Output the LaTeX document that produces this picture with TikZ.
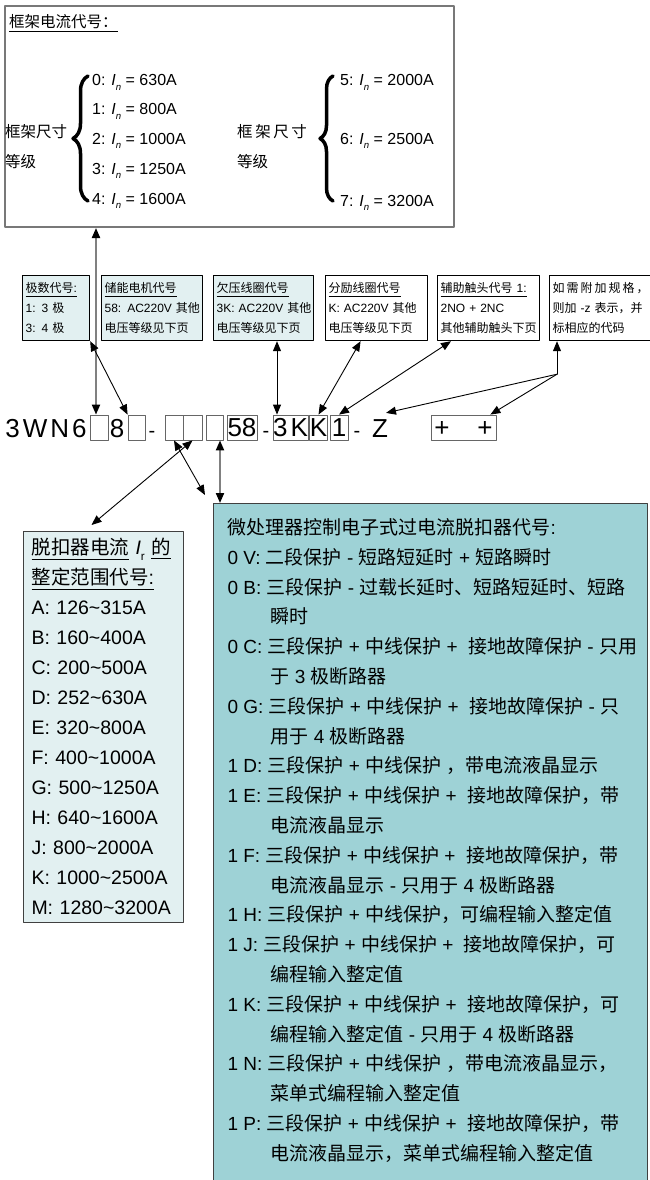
\documentclass[tikz,border=0pt]{standalone}
\usepackage{fontspec}
\usepackage{graphicx}
\setmainfont{Liberation Sans}
\newfontfamily\cjkfont{Noto Sans CJK SC}
\usetikzlibrary{arrows.meta,decorations.pathreplacing}
\definecolor{palefill}{RGB}{226,240,241}
\definecolor{tealfill}{RGB}{158,210,214}
\definecolor{framegray}{RGB}{120,120,120}
\XeTeXinterchartokenstate=1
\newXeTeXintercharclass\cjkclass
\makeatletter
\count@="3000
\loop\ifnum\count@<"A000 \XeTeXcharclass\count@=\cjkclass \advance\count@\@ne\repeat
\count@="FF00
\loop\ifnum\count@<"FFF0 \XeTeXcharclass\count@=\cjkclass \advance\count@\@ne\repeat
\makeatother
\XeTeXinterchartoks 0 \cjkclass = {\begingroup\cjkfont}
\XeTeXinterchartoks 4095 \cjkclass = {\begingroup\cjkfont}
\XeTeXinterchartoks \cjkclass 0 = {\endgroup}
\XeTeXinterchartoks \cjkclass 4095 = {\endgroup}
\newcommand{\ulbox}[1]{\leavevmode\vtop{\hbox{#1}\kern2pt\hrule height 1.1pt}}
\newcommand{\Isub}[1]{\textit{I}\raisebox{-.3em}{\scalebox{.6}{\textit{#1}}}}
\begin{document}
\begin{tikzpicture}[x=1pt,y=-1pt,line cap=round,line join=round,
  codebox/.style={draw=black!60,line width=0.8pt,inner sep=0pt,minimum height=25pt,text height=18.7pt,text depth=0pt,font=\fontsize{26}{26}\selectfont},
  codetext/.style={anchor=base,inner sep=0pt,font=\fontsize{26}{26}\selectfont},
  dashtext/.style={anchor=base,inner sep=0pt,font=\fontsize{20}{20}\selectfont},
  notebox/.style={draw=black,line width=1.2pt,anchor=north west,align=left,text width=#1,minimum height=65pt,inner xsep=3pt,inner ysep=2pt,font=\fontsize{12}{20}\selectfont},
  dbl/.style={{Triangle[length=10pt,width=8pt]}-{Triangle[length=10pt,width=8pt]},line width=0.9pt},
  onearrow/.style={-{Triangle[length=10pt,width=8pt]},line width=0.9pt},
  graydbl/.style={{Triangle[length=10pt,width=8pt,color=black]}-{Triangle[length=10pt,width=8pt,color=black]},draw=black!50,line width=2pt},
  bigbrace/.style={decorate,decoration={brace,amplitude=#1},line width=3.5pt},
  rating/.style={anchor=base west,inner sep=0pt,font=\fontsize{16}{16}\selectfont},
  sizelabel/.style={anchor=west,inner sep=0pt,font=\fontsize{15.5}{16}\selectfont}]
  \useasboundingbox (0,0) rectangle (650,1180);
  \node[draw=framegray,line width=2pt,anchor=north west,minimum width=449pt,minimum height=221pt,inner sep=0pt] (frame) at (4,5) {};
  \node[anchor=north west,inner sep=0pt,font=\fontsize{15.5}{16}\selectfont] (ftitle) at (9,14) {\ulbox{框架电流代号：}};
  \node[sizelabel] (lsize) at (5,132) {框架尺寸};
  \node[sizelabel] (lgrade) at (5,162) {等级};
  \draw[bigbrace=15pt] (88,201) -- (88,76);
  \foreach \k/\amps/\yy in {0/630/80,1/800/109,2/1000/138,3/1250/168,4/1600/198}
    \node[rating] (lo\k) at (92,\yy+6) {\k: \Isub{n} = \amps A};
  \node[sizelabel] (rsize) at (237,132) {框\,架\,尺\,寸};
  \node[sizelabel] (rgrade) at (237,162) {等级};
  \draw[bigbrace=13pt] (333,201) -- (333,76);
  \foreach \k/\amps/\yy in {5/2000/80,6/2500/138,7/3200/200}
    \node[rating] (hi\k) at (340,\yy+6) {\k: \Isub{n} = \amps A};

  \node[notebox=61pt,fill=palefill] (poles) at (22,275) {\ulbox{极数代号:}\\1: 3 极\\3: 4 极};
  \node[notebox=95pt,fill=palefill] (motor) at (101,275) {\ulbox{储能电机代号}\\\mbox{58: AC220V 其他}\\电压等级见下页};
  \node[notebox=94pt,fill=palefill] (uv) at (213,275) {\ulbox{欠压线圈代号}\\\mbox{3K: AC220V 其他}\\电压等级见下页};
  \node[notebox=96pt,fill=white] (shunt) at (325,275) {\ulbox{分励线圈代号}\\\mbox{K: AC220V 其他}\\电压等级见下页};
  \node[notebox=96pt,fill=white] (aux) at (437,275) {\ulbox{辅助触头代号 1:}\\\mbox{2NO + 2NC}\\其他辅助触头下页};
  \node[notebox=110pt,fill=white] (extra) at (549,275) {如\,需\,附\,加\,规\,格\,，\\\mbox{则加 -z 表示，并}\\标相应的代码};

  \node[codetext] (series) at (46,437) {3\hspace{3pt}W\hspace{3pt}N\hspace{3pt}6};
  \node[codebox,minimum width=18pt] (ba) at (99,427.5) {};
  \node[codetext] (eight) at (117,437) {8};
  \node[codebox,minimum width=17pt] (bb) at (136.5,427.5) {};
  \node[dashtext] (d1) at (152,437) {-};
  \node[codebox,minimum width=18pt] (bc) at (174,427.5) {};
  \node[codebox,minimum width=19pt] (bd) at (192.5,427.5) {};
  \node[codebox,minimum width=17pt] (be) at (214.5,427.5) {};
  \node[codebox,minimum width=30pt] (b58) at (242,427.5) {58};
  \node[dashtext] (d2) at (266,437) {-};
  \node[codebox,minimum width=35pt] (b3k) at (290.5,427.5) {3\hspace{3pt}K};
  \node[codebox,minimum width=14pt] (bk) at (318.5,427.5) {K};
  \node[codebox,minimum width=18pt] (bone) at (339,427.5) {1};
  \node[dashtext] (d3) at (357,437) {-};
  \node[codetext] (zed) at (380,437) {Z};
  \node[codebox,minimum width=65pt] (plus) at (463.5,427.5) {+\hspace{28pt}+};

  \node[draw=black!75,line width=1pt,fill=palefill,anchor=north west,text width=144pt,inner xsep=8pt,inner ysep=7pt,align=left,font=\fontsize{19.5}{30}\selectfont] (range) at (23,531)
    {\ulbox{脱扣器电流} \textit{I}\raisebox{-.3em}{\scalebox{.6}{r}} \ulbox{的}\\
     \ulbox{整定范围代号:}\\
     A: 126\textasciitilde315A\\
     B: 160\textasciitilde400A\\
     C: 200\textasciitilde500A\\
     D: 252\textasciitilde630A\\
     E: 320\textasciitilde800A\\
     F: 400\textasciitilde1000A\\
     G: 500\textasciitilde1250A\\
     H: 640\textasciitilde1600A\\
     J: 800\textasciitilde2000A\\
     K: 1000\textasciitilde2500A\\
     M: 1280\textasciitilde3200A};
  \node[draw=black!75,line width=1pt,fill=tealfill,anchor=north west,inner xsep=14pt,inner ysep=15pt,font=\fontsize{19}{29.8}\selectfont] (trip) at (213,503)
    {\parbox[t][690pt][t]{406pt}{%
     \mbox{微处理器控制电子式过电流脱扣器代号:}\\
     \mbox{0 V: 二段保护 - 短路短延时 + 短路瞬时}\\
     \mbox{0 B: 三段保护 - 过载长延时、短路短延时、短路}\\
     \mbox{\hspace*{43pt}瞬时}\\
     \mbox{0 C: 三段保护 + 中线保护 +\ \ 接地故障保护 - 只用}\\
     \mbox{\hspace*{43pt}于 3 极断路器}\\
     \mbox{0 G: 三段保护 + 中线保护 +\ \ 接地故障保护 - 只}\\
     \mbox{\hspace*{43pt}用于 4 极断路器}\\
     \mbox{1 D: 三段保护 + 中线保护 ，带电流液晶显示}\\
     \mbox{1 E: 三段保护 + 中线保护 +\ \ 接地故障保护，带}\\
     \mbox{\hspace*{43pt}电流液晶显示}\\
     \mbox{1 F: 三段保护 + 中线保护 +\ \ 接地故障保护，带}\\
     \mbox{\hspace*{43pt}电流液晶显示 - 只用于 4 极断路器}\\
     \mbox{1 H: 三段保护 + 中线保护，可编程输入整定值}\\
     \mbox{1 J: 三段保护 + 中线保护 +\ \ 接地故障保护，可}\\
     \mbox{\hspace*{43pt}编程输入整定值}\\
     \mbox{1 K: 三段保护 + 中线保护 +\ \ 接地故障保护，可}\\
     \mbox{\hspace*{43pt}编程输入整定值 - 只用于 4 极断路器}\\
     \mbox{1 N: 三段保护 + 中线保护 ，带电流液晶显示，}\\
     \mbox{\hspace*{43pt}菜单式编程输入整定值}\\
     \mbox{1 P: 三段保护 + 中线保护 +\ \ 接地故障保护，带}\\
     \mbox{\hspace*{43pt}电流液晶显示，菜单式编程输入整定值}}};

  \coordinate (baTop) at ([xshift=-3pt]ba.north);
  \draw[graydbl] (baTop |- frame.south) -- (baTop);
  \draw[dbl] (poles.south east) -- (bb.north west);
  \coordinate (k3Top) at ([xshift=-13.5pt]b3k.north);
  \draw[dbl] (k3Top |- uv.south) -- (k3Top);
  \draw[dbl] ([xshift=-16pt]shunt.south) -- (bk.north);
  \draw[dbl] ([xshift=14pt]aux.south west) -- (bone.north);
  \coordinate (fork) at ([xshift=8pt,yshift=-33pt]extra.south west);
  \draw[onearrow] (fork) -- (fork |- extra.south);
  \draw[onearrow] (fork) -- ([xshift=6pt,yshift=6pt]zed.north);
  \draw[onearrow] (fork) -- ([xshift=-6pt]plus.north east);
  \draw[dbl] (bc.south) -- ([xshift=-8pt,yshift=8pt]trip.north west);
  \draw[dbl] (bd.south) -- ([xshift=-12pt,yshift=6pt]range.north);
  \coordinate (beBot) at ([xshift=5.5pt]be.south);
  \draw[graydbl] (beBot) -- (beBot |- trip.north);
\end{tikzpicture}
\end{document}
